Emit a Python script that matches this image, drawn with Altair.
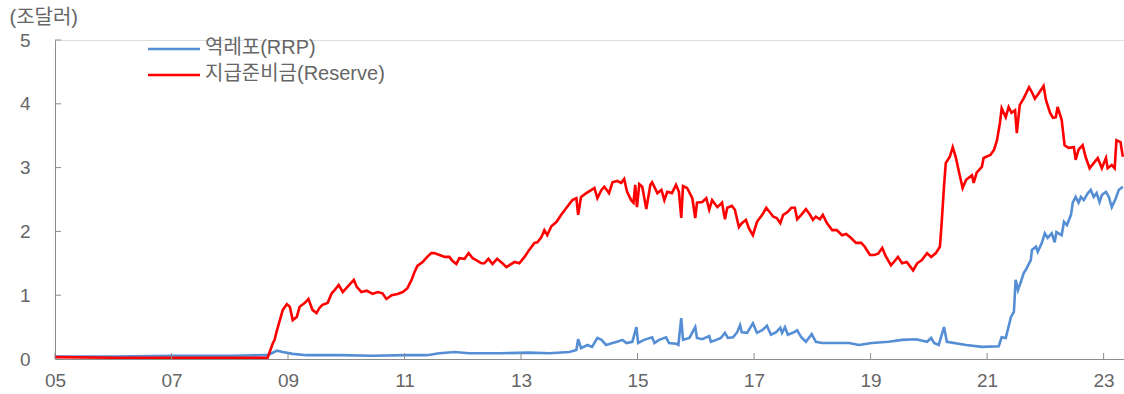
import altair as alt
import pandas as pd

# Series names (legend labels)
RRP_NAME = "역레포(RRP)"
RES_NAME = "지급준비금(Reserve)"

# Overnight reverse repo balance (trillion USD), by decimal year
rrp_year = [2005.00, 2006.00, 2007.00, 2008.00, 2008.60, 2008.65, 2008.72, 2008.81, 2008.91, 2009.08,
            2009.32, 2009.89, 2010.45, 2011.03, 2011.38, 2011.60, 2011.86, 2012.11, 2012.63, 2013.14,
            2013.49, 2013.83, 2013.95, 2013.98, 2014.03, 2014.14, 2014.22, 2014.31, 2014.38, 2014.46,
            2014.57, 2014.65, 2014.74, 2014.81, 2014.91, 2014.98, 2015.01, 2015.11, 2015.25, 2015.29,
            2015.37, 2015.49, 2015.54, 2015.66, 2015.70, 2015.75, 2015.78, 2015.89, 2015.99, 2016.02,
            2016.11, 2016.23, 2016.26, 2016.35, 2016.43, 2016.50, 2016.55, 2016.64, 2016.71, 2016.76,
            2016.79, 2016.88, 2016.98, 2017.05, 2017.14, 2017.22, 2017.29, 2017.38, 2017.45, 2017.48,
            2017.53, 2017.58, 2017.69, 2017.74, 2017.81, 2017.89, 2017.99, 2018.06, 2018.17, 2018.41,
            2018.63, 2018.80, 2019.02, 2019.31, 2019.54, 2019.78, 2019.97, 2020.04, 2020.09, 2020.17,
            2020.26, 2020.31, 2020.64, 2020.91, 2021.20, 2021.25, 2021.32, 2021.41, 2021.46, 2021.49,
            2021.53, 2021.58, 2021.63, 2021.66, 2021.75, 2021.77, 2021.84, 2021.87, 2021.94, 2021.99,
            2022.04, 2022.11, 2022.16, 2022.19, 2022.28, 2022.32, 2022.37, 2022.44, 2022.47, 2022.52,
            2022.57, 2022.61, 2022.66, 2022.73, 2022.78, 2022.83, 2022.88, 2022.93, 2022.97, 2023.04,
            2023.09, 2023.14, 2023.21, 2023.26, 2023.33]
rrp_val = [0.04, 0.04, 0.05, 0.05, 0.06, 0.06, 0.09, 0.13, 0.11, 0.08,
           0.06, 0.06, 0.05, 0.06, 0.06, 0.09, 0.11, 0.09, 0.09, 0.10,
           0.09, 0.11, 0.14, 0.31, 0.17, 0.22, 0.19, 0.33, 0.30, 0.22,
           0.25, 0.27, 0.30, 0.25, 0.27, 0.50, 0.25, 0.30, 0.34, 0.25,
           0.30, 0.34, 0.25, 0.24, 0.22, 0.64, 0.30, 0.33, 0.50, 0.33,
           0.31, 0.36, 0.27, 0.30, 0.33, 0.41, 0.33, 0.34, 0.42, 0.53,
           0.42, 0.41, 0.56, 0.41, 0.45, 0.52, 0.38, 0.42, 0.49, 0.41,
           0.50, 0.38, 0.42, 0.45, 0.34, 0.27, 0.39, 0.27, 0.25, 0.25,
           0.25, 0.22, 0.25, 0.27, 0.30, 0.31, 0.27, 0.33, 0.25, 0.22,
           0.50, 0.27, 0.22, 0.19, 0.20, 0.34, 0.33, 0.66, 0.74, 1.24,
           1.08, 1.21, 1.35, 1.39, 1.55, 1.71, 1.76, 1.68, 1.82, 1.97,
           1.90, 1.97, 1.83, 1.99, 1.94, 2.15, 2.10, 2.26, 2.45, 2.54,
           2.45, 2.54, 2.49, 2.60, 2.65, 2.54, 2.60, 2.46, 2.57, 2.62,
           2.54, 2.38, 2.52, 2.65, 2.70]

# Reserve balances (trillion USD), by decimal year
res_year = [2005.00, 2006.00, 2007.00, 2008.00, 2008.60, 2008.65, 2008.74, 2008.77, 2008.81, 2008.86,
            2008.91, 2008.98, 2009.03, 2009.08, 2009.15, 2009.20, 2009.29, 2009.35, 2009.42, 2009.49,
            2009.54, 2009.59, 2009.68, 2009.75, 2009.80, 2009.87, 2009.94, 2010.02, 2010.13, 2010.18,
            2010.26, 2010.35, 2010.45, 2010.54, 2010.62, 2010.69, 2010.78, 2010.88, 2010.97, 2011.05,
            2011.12, 2011.17, 2011.22, 2011.31, 2011.39, 2011.46, 2011.51, 2011.60, 2011.69, 2011.77,
            2011.82, 2011.89, 2011.94, 2012.03, 2012.10, 2012.17, 2012.23, 2012.32, 2012.37, 2012.44,
            2012.51, 2012.59, 2012.68, 2012.75, 2012.80, 2012.89, 2012.97, 2013.06, 2013.14, 2013.23,
            2013.28, 2013.35, 2013.40, 2013.45, 2013.52, 2013.61, 2013.69, 2013.78, 2013.88, 2013.95,
            2013.98, 2014.03, 2014.12, 2014.21, 2014.26, 2014.31, 2014.38, 2014.43, 2014.51, 2014.57,
            2014.65, 2014.72, 2014.77, 2014.82, 2014.89, 2014.93, 2014.96, 2014.99, 2015.03, 2015.08,
            2015.15, 2015.22, 2015.25, 2015.34, 2015.41, 2015.46, 2015.51, 2015.59, 2015.66, 2015.71,
            2015.75, 2015.78, 2015.85, 2015.94, 2015.99, 2016.02, 2016.11, 2016.18, 2016.23, 2016.28,
            2016.37, 2016.45, 2016.50, 2016.54, 2016.62, 2016.67, 2016.74, 2016.79, 2016.86, 2016.91,
            2016.98, 2017.05, 2017.14, 2017.21, 2017.27, 2017.33, 2017.39, 2017.45, 2017.50, 2017.57,
            2017.64, 2017.70, 2017.74, 2017.81, 2017.89, 2017.96, 2018.01, 2018.06, 2018.13, 2018.18,
            2018.25, 2018.34, 2018.42, 2018.51, 2018.58, 2018.66, 2018.75, 2018.84, 2018.90, 2018.99,
            2019.06, 2019.13, 2019.20, 2019.26, 2019.35, 2019.40, 2019.47, 2019.54, 2019.62, 2019.73,
            2019.80, 2019.88, 2019.97, 2020.04, 2020.12, 2020.19, 2020.22, 2020.26, 2020.29, 2020.36,
            2020.41, 2020.46, 2020.53, 2020.58, 2020.64, 2020.74, 2020.77, 2020.82, 2020.91, 2020.94,
            2021.06, 2021.12, 2021.17, 2021.22, 2021.25, 2021.32, 2021.37, 2021.42, 2021.48, 2021.51,
            2021.56, 2021.63, 2021.72, 2021.77, 2021.82, 2021.89, 2021.97, 2022.01, 2022.08, 2022.13,
            2022.18, 2022.21, 2022.28, 2022.33, 2022.40, 2022.49, 2022.52, 2022.57, 2022.64, 2022.69,
            2022.76, 2022.83, 2022.90, 2022.97, 2023.04, 2023.07, 2023.14, 2023.19, 2023.22, 2023.29,
            2023.33]
res_val = [0.03, 0.02, 0.02, 0.02, 0.02, 0.02, 0.25, 0.30, 0.45, 0.61,
           0.77, 0.86, 0.82, 0.61, 0.66, 0.82, 0.88, 0.94, 0.77, 0.72,
           0.80, 0.85, 0.88, 1.03, 1.08, 1.16, 1.05, 1.13, 1.24, 1.13,
           1.05, 1.07, 1.02, 1.05, 1.03, 0.94, 1.00, 1.02, 1.05, 1.11,
           1.24, 1.36, 1.46, 1.52, 1.60, 1.66, 1.66, 1.63, 1.60, 1.60,
           1.54, 1.49, 1.58, 1.57, 1.66, 1.58, 1.55, 1.50, 1.50, 1.57,
           1.49, 1.57, 1.50, 1.44, 1.47, 1.52, 1.50, 1.60, 1.71, 1.82,
           1.83, 1.91, 2.02, 1.94, 2.08, 2.15, 2.26, 2.37, 2.49, 2.52,
           2.26, 2.54, 2.60, 2.65, 2.68, 2.52, 2.65, 2.70, 2.60, 2.77,
           2.79, 2.76, 2.82, 2.62, 2.49, 2.45, 2.73, 2.38, 2.74, 2.70,
           2.35, 2.73, 2.77, 2.60, 2.65, 2.49, 2.62, 2.60, 2.73, 2.62,
           2.21, 2.71, 2.68, 2.52, 2.21, 2.45, 2.46, 2.52, 2.34, 2.49,
           2.38, 2.45, 2.19, 2.37, 2.40, 2.34, 2.07, 2.13, 2.18, 2.05,
           1.94, 2.15, 2.26, 2.37, 2.30, 2.23, 2.21, 2.13, 2.26, 2.30,
           2.37, 2.37, 2.19, 2.26, 2.35, 2.26, 2.18, 2.23, 2.19, 2.26,
           2.13, 2.02, 2.02, 1.94, 1.96, 1.90, 1.82, 1.82, 1.76, 1.63,
           1.63, 1.65, 1.74, 1.61, 1.47, 1.52, 1.60, 1.50, 1.52, 1.39,
           1.50, 1.55, 1.66, 1.60, 1.66, 1.76, 2.13, 2.70, 3.07, 3.17,
           3.32, 3.17, 2.88, 2.68, 2.81, 2.88, 2.76, 2.92, 3.01, 3.15,
           3.20, 3.28, 3.43, 3.70, 3.93, 3.79, 3.95, 3.86, 3.90, 3.54,
           3.98, 4.09, 4.26, 4.18, 4.08, 4.17, 4.28, 4.06, 3.86, 3.78,
           3.79, 3.95, 3.75, 3.35, 3.31, 3.32, 3.12, 3.28, 3.35, 3.17,
           2.99, 3.07, 3.15, 2.99, 3.15, 2.99, 3.04, 2.99, 3.43, 3.40,
           3.17]

x_ticks = [2005, 2007, 2009, 2011, 2013, 2015, 2017, 2019, 2021, 2023]
y_ticks = [0, 1, 2, 3, 4, 5]

FONT = "Liberation Sans, Noto Sans CJK KR"
TEXT_GRAY = "#666666"
AXIS_GRAY = "#8c8c8c"
BLUE = "#558ed5"
RED = "#ff0000"
LINE_W = 2.6

series = pd.concat([
    pd.DataFrame({"year": rrp_year, "value": rrp_val, "series": RRP_NAME, "order": 0}),
    pd.DataFrame({"year": res_year, "value": res_val, "series": RES_NAME, "order": 1}),
], ignore_index=True)

x_scale = alt.Scale(domain=[2005, 2023.35], nice=False, zero=False)
y_scale = alt.Scale(domain=[0, 5], nice=False)

lines = alt.Chart(series).mark_line(strokeWidth=LINE_W).encode(
    x=alt.X("year:Q", scale=x_scale,
            axis=alt.Axis(values=x_ticks, title=None, grid=False, ticks=False,
                          domainColor=AXIS_GRAY, domainWidth=1,
                          labelExpr="substring(toString(datum.value), 2, 4)",
                          labelFont=FONT, labelFontSize=19, labelColor=TEXT_GRAY,
                          labelPadding=12, labelFlush=False)),
    y=alt.Y("value:Q", scale=y_scale,
            axis=alt.Axis(values=y_ticks, format="d", grid=False, ticks=False,
                          domainColor=AXIS_GRAY, domainWidth=1,
                          labelFont=FONT, labelFontSize=19, labelColor=TEXT_GRAY,
                          labelPadding=25,
                          title="(조달러)", titleAngle=0, titleAlign="left",
                          titleBaseline="alphabetic", titleX=-46, titleY=-17,
                          titleFont=FONT, titleFontSize=20, titleFontWeight="normal",
                          titleColor=TEXT_GRAY)),
    color=alt.Color("series:N",
                    scale=alt.Scale(domain=[RRP_NAME, RES_NAME], range=[BLUE, RED]),
                    legend=None),
    detail="order:O",
)

# Inward-pointing tick marks on both axes
xtick_df = pd.DataFrame({"year": x_ticks})
xticks = alt.Chart(xtick_df).mark_rule(color=AXIS_GRAY, strokeWidth=1).encode(
    x=alt.X("year:Q", scale=x_scale),
    y=alt.value(313),
    y2=alt.value(319),
)

ytick_df = pd.DataFrame({"value": y_ticks})
yticks = alt.Chart(ytick_df).mark_rule(color=AXIS_GRAY, strokeWidth=1).encode(
    y=alt.Y("value:Q", scale=y_scale),
    x=alt.value(0),
    x2=alt.value(6),
)

# Legend: a short line swatch followed by the series name, one row per series
def legend_row(name, color, row_y):
    df = pd.DataFrame({"name": [name]})
    swatch = alt.Chart(df).mark_rule(color=color, strokeWidth=LINE_W).encode(
        x=alt.value(93), x2=alt.value(145), y=alt.value(row_y))
    label = alt.Chart(df).mark_text(align="left", baseline="middle", font=FONT,
                                    fontSize=20, color=TEXT_GRAY).encode(
        x=alt.value(150), y=alt.value(row_y - 1), text="name:N")
    return swatch + label

legend = legend_row(RRP_NAME, BLUE, 9) + legend_row(RES_NAME, RED, 35)

chart = alt.layer(lines, xticks, yticks, legend).properties(
    width=1069,
    height=319,
    autosize="none",
    padding={"left": 55, "top": 40, "right": 0, "bottom": 35},
).configure_view(stroke=None).configure(background="white")

chart.save("out.html", embed_options={"renderer": "svg", "actions": False})
